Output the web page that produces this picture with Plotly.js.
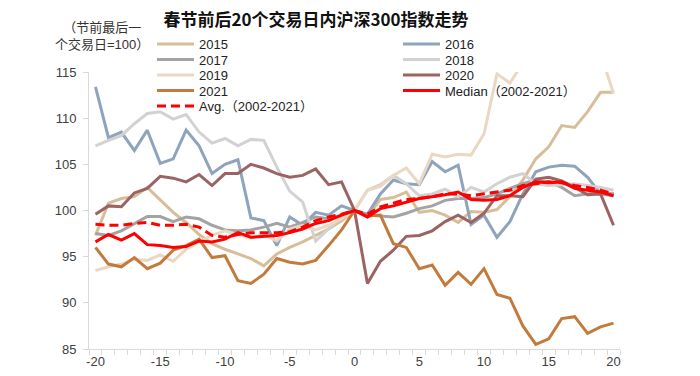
<!DOCTYPE html>
<html>
<head>
<meta charset="utf-8">
<script src="https://cdn.plot.ly/plotly-3.0.1.min.js"></script>
<style>html,body{margin:0;padding:0;background:#fff;}#chart{width:700px;height:376px;}</style>
</head>
<body>
<div id="chart"></div>
<script>
var days = [-20,-19,-18,-17,-16,-15,-14,-13,-12,-11,-10,-9,-8,-7,-6,-5,-4,-3,-2,-1,0,1,2,3,4,5,6,7,8,9,10,11,12,13,14,15,16,17,18,19,20];

var y2015 = [97.3,100.8,101.3,101.5,102.5,101.2,99.8,98.7,97.4,96.4,95.8,95.3,94.8,94.0,95.3,96.0,96.6,97.3,98.0,98.9,100,99.3,101.2,101.4,102.0,99.8,100.0,99.5,98.7,99.9,99.8,100.1,101.5,103.3,105.6,106.9,109.2,109.0,110.7,112.8,112.8];
var y2016 = [113.4,107.9,108.5,106.5,108.7,105.1,105.6,108.7,107.0,104.0,105.0,105.5,99.2,98.9,96.2,99.3,98.4,99.8,99.5,100.5,100,99.6,101.8,103.3,102.9,102.8,105.3,104.2,104.9,98.5,99.5,97.1,98.8,101.8,104.2,104.7,104.9,104.8,103.6,101.8,101.6];
var y2017 = [97.5,97.3,97.8,98.6,99.35,99.35,98.8,99.3,99.1,98.4,97.9,97.8,97.9,98.2,98.6,98.2,98.7,99.3,99.1,99.5,100,99.5,99.4,99.3,99.7,100.2,100.5,101.1,101.3,101.3,101.4,101.8,102.4,102.9,103.3,103.1,102.5,101.6,101.8,102.0,101.8];
var y2018 = [107.0,107.6,108.1,109.4,110.5,110.7,109.9,110.4,108.5,107.3,107.8,107.0,107.7,107.6,104.7,102.1,100.9,96.7,98.0,99.3,100,102.2,102.8,103.8,102.9,101.6,101.8,102.3,101.5,102.5,102.0,102.9,103.6,104.0,102.9,102.7,102.8,102.9,102.7,102.5,102.2];
var y2019 = [93.5,93.9,94.2,94.7,94.6,95.2,94.5,95.8,96.6,97.3,97.8,97.4,97.0,97.4,96.7,98.0,98.4,97.9,98.4,99.1,100,102.2,102.6,103.8,104.6,102.9,106.1,105.8,106.1,106.0,108.3,114.8,113.8,116.0,118.0,119.5,120.5,121.0,119.5,117.0,112.7];
var y2020 = [99.6,100.5,100.4,101.9,102.4,103.7,103.5,103.1,103.9,102.7,104.0,104.0,105.0,104.6,104.0,103.6,103.8,104.5,102.8,103.1,100,92.1,94.5,95.7,97.2,97.3,97.8,98.8,99.5,98.7,99.7,101.6,101.6,101.5,103.4,103.6,103.2,102.5,101.7,101.8,98.4];
var y2021 = [96.0,94.2,93.9,94.9,93.7,94.3,95.7,96.2,96.9,94.9,95.1,92.4,92.1,93.1,94.8,94.4,94.2,94.6,96.2,97.9,100,99.4,99.5,96.4,96.0,93.7,94.1,91.9,93.3,92.0,93.7,90.9,90.5,87.5,85.5,86.1,88.3,88.5,86.7,87.4,87.8];
var yMedian = [96.6,97.4,96.8,97.5,96.3,96.2,96.0,96.1,96.7,96.6,96.9,97.6,97.1,97.2,97.3,97.6,98.0,98.6,98.9,99.5,100,99.3,100.2,100.5,100.9,101.3,101.5,101.7,102.0,101.2,101.1,101.2,101.6,102.5,103.1,103.0,103.1,102.4,102.2,102.0,101.6];
var yAvg = [98.5,98.4,98.4,98.6,98.7,98.4,98.4,98.5,98.2,97.3,97.1,97.4,97.6,97.6,97.6,97.7,98.2,98.9,99.3,99.6,100,99.6,100.4,100.8,101.2,101.3,101.5,101.8,101.8,101.6,101.8,102.0,102.2,102.7,102.9,103.1,103.0,102.7,102.5,102.2,101.8];

var seriesNames = ['2015','2016','2017','2018','2019','2020','2021','Median（2002-2021）','Avg.（2002-2021）'];
var seriesValues = [y2015,y2016,y2017,y2018,y2019,y2020,y2021,yMedian,yAvg];
var seriesColors = ['#D8BE98','#8FA3BD','#A3A3A3','#D2D2D2','#E9D8C3','#9C6363','#C37B3D','#FF0000','#FF0000'];
var seriesDash = ['solid','solid','solid','solid','solid','solid','solid','solid','9px,5px'];
var seriesLegend = ['legend','legend','legend2','legend2','legend3','legend3','legend4','legend4','legend5'];
var xLabels = [-20,-15,-10,-5,0,5,10,15,20];
var yTicks = [85,90,95,100,105,110,115];

var font = 'Liberation Sans, Arial, "Noto Sans CJK SC", sans-serif';
var traces = seriesNames.map(function(n,i){
  return {
    x: days, y: seriesValues[i], name: n, type: 'scatter', mode: 'lines',
    line: {color: seriesColors[i], width: 3, dash: seriesDash[i]},
    legend: seriesLegend[i], hoverinfo: 'skip'
  };
});

var rowY = [44, 59.5, 75, 90.5, 106];
var legendBase = function(yc){
  return {orientation:'h', xref:'container', yref:'container', x: 152/700, y: 1 - yc/376,
    xanchor:'left', yanchor:'middle', entrywidth: 194, entrywidthmode:'pixels',
    bgcolor:'rgba(0,0,0,0)', borderwidth:0, itemwidth:37,
    font:{family: font, size: 13, color:'#222'}, traceorder:'normal'};
};

var layout = {
  width: 700, height: 376,
  margin: {l: 89, r: 80, t: 72, b: 27, autoexpand: false},
  paper_bgcolor: '#fff', plot_bgcolor: '#fff',
  font: {family: font, color: '#404040'},
  title: {text: '春节前后20个交易日内沪深300指数走势', x: 316/700, xanchor: 'center', y: 1 - 20/376, yanchor: 'middle', xref:'container', yref:'container',
    font: {family: '"Noto Sans CJK SC", sans-serif', size: 17, color: '#111', weight: 'bold'}},
  xaxis: {range: [-20.5, 20.5], tickmode: 'array', tickvals: xLabels, ticktext: xLabels.map(String),
    ticks: '', showgrid: false, zeroline: false, showline: true, linecolor: '#D9D9D9', linewidth: 1,
    tickfont: {family: font, size: 13, color: '#404040'},
    minor: {tick0: -20.5, dtick: 1, ticks: 'outside', ticklen: 5, tickcolor: '#D9D9D9', showgrid: false}},
  yaxis: {range: [85, 115], tickmode: 'array', tickvals: yTicks, ticks: 'outside', ticklen: 5, tickcolor: '#D9D9D9',
    showgrid: false, zeroline: false, showline: true, linecolor: '#D9D9D9', linewidth: 1,
    tickfont: {family: font, size: 13, color: '#404040'}, ticklabelstandoff: 4},
  showlegend: true,
  legend: legendBase(rowY[0]),
  legend2: legendBase(rowY[1]),
  legend3: legendBase(rowY[2]),
  legend4: legendBase(rowY[3]),
  legend5: legendBase(rowY[4]),
  annotations: [
    {text: '（节前最后一<br>个交易日=100）', xref: 'paper', yref: 'paper', x: (102-89)/531, y: 1 + (72-36)/277,
     xanchor: 'center', yanchor: 'middle', showarrow: false, align: 'center',
     font: {family: font, size: 13, color: '#333'}}
  ]
};

Plotly.newPlot('chart', traces, layout, {displayModeBar: false, staticPlot: true});
</script>
</body>
</html>
